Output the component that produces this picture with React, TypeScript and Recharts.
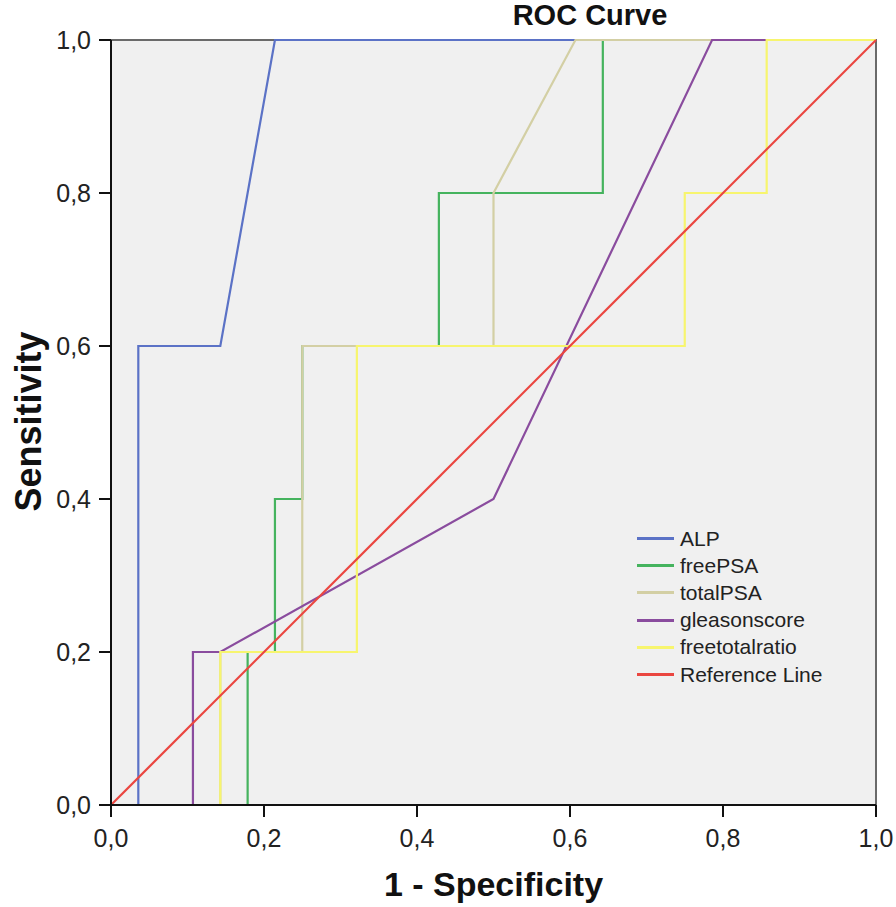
import React from 'react';
import { LineChart, Line, XAxis, YAxis, ReferenceArea, Legend } from 'recharts';

const axisTicks = [0, 0.2, 0.4, 0.6, 0.8, 1.0];

const alpX = [0, 0.0357, 0.0357, 0.1429, 0.2143, 1];
const alpY = [0, 0, 0.6, 0.6, 1, 1];

const freePsaX = [0, 0.1786, 0.1786, 0.2143, 0.2143, 0.25, 0.25, 0.4286, 0.4286, 0.6429, 0.6429, 1];
const freePsaY = [0, 0, 0.2, 0.2, 0.4, 0.4, 0.6, 0.6, 0.8, 0.8, 1, 1];

const totalPsaX = [0, 0.1429, 0.1429, 0.25, 0.25, 0.5, 0.5, 0.6071, 1];
const totalPsaY = [0, 0, 0.2, 0.2, 0.6, 0.6, 0.8, 1, 1];

const gleasonX = [0, 0.1071, 0.1071, 0.1429, 0.5, 0.7857, 1];
const gleasonY = [0, 0, 0.2, 0.2, 0.4, 1, 1];

const ratioX = [0, 0.1429, 0.1429, 0.3214, 0.3214, 0.75, 0.75, 0.8571, 0.8571, 1];
const ratioY = [0, 0, 0.2, 0.2, 0.6, 0.6, 0.8, 0.8, 1, 1];

const refX = [0, 1];
const refY = [0, 1];

const toPoints = (xs: number[], ys: number[]) => xs.map((x, i) => ({ x, y: ys[i] }));

const series = [
  { name: 'ALP', data: toPoints(alpX, alpY), color: '#5b72c6' },
  { name: 'freePSA', data: toPoints(freePsaX, freePsaY), color: '#45b35e' },
  { name: 'totalPSA', data: toPoints(totalPsaX, totalPsaY), color: '#d3cfa4' },
  { name: 'gleasonscore', data: toPoints(gleasonX, gleasonY), color: '#8a4c9e' },
  { name: 'freetotalratio', data: toPoints(ratioX, ratioY), color: '#f7f56e' },
  { name: 'Reference Line', data: toPoints(refX, refY), color: '#ea4640' },
];
const seriesOrder = series.map((s) => s.name);

const fmt = (v: number) => v.toFixed(1).replace('.', ',');

const FONT = '"Liberation Sans", Arial, sans-serif';

const renderLegend = (props: any) => {
  const payload = [...(props.payload || [])].sort(
    (a: any, b: any) => seriesOrder.indexOf(a.value) - seriesOrder.indexOf(b.value)
  );
  return (
    <div style={{ fontFamily: FONT }}>
      {payload.map((p: any) => (
        <div key={p.value} style={{ display: 'flex', alignItems: 'center', height: 27.2 }}>
          <div style={{ width: 37, height: 3, background: p.color, marginRight: 6 }} />
          <span style={{ fontSize: 21, color: '#222', lineHeight: '22px' }}>{p.value}</span>
        </div>
      ))}
    </div>
  );
};

export default function App() {
  return (
    <div style={{ position: 'absolute', left: 0, top: 0, width: 896, height: 907, background: '#fff' }}>
      <div
        style={{
          position: 'absolute',
          left: 440,
          top: 0,
          width: 300,
          textAlign: 'center',
          fontFamily: FONT,
          fontWeight: 'bold',
          fontSize: 29,
          lineHeight: '30px',
          color: '#111',
          zIndex: 2,
        }}
      >
        ROC Curve
      </div>
      <LineChart width={896} height={907} margin={{ top: 40, right: 20, bottom: 0, left: 0 }}>
        <ReferenceArea
          x1={0}
          x2={1}
          y1={0}
          y2={1}
          fill="#f0f0f0"
          fillOpacity={1}
          stroke="#6a6a6a"
          strokeWidth={2}
          isAnimationActive={false}
        />
        <XAxis
          type="number"
          dataKey="x"
          domain={[0, 1]}
          ticks={axisTicks}
          tickFormatter={fmt}
          height={102}
          tickSize={12}
          tickMargin={12}
          axisLine={{ stroke: '#111', strokeWidth: 2 }}
          tickLine={{ stroke: '#111', strokeWidth: 2 }}
          tick={{ fill: '#222', fontSize: 25, fontFamily: FONT }}
          allowDuplicatedCategory
          label={{
            value: '1 - Specificity',
            position: 'insideBottom',
            offset: 11,
            style: { fill: '#111', fontSize: 34, fontWeight: 'bold', fontFamily: FONT },
          }}
        />
        <YAxis
          type="number"
          dataKey="y"
          domain={[0, 1]}
          ticks={axisTicks}
          tickFormatter={fmt}
          width={111}
          tickSize={12}
          tickMargin={8}
          axisLine={{ stroke: '#111', strokeWidth: 2 }}
          tickLine={{ stroke: '#111', strokeWidth: 2 }}
          tick={{ fill: '#222', fontSize: 25, fontFamily: FONT }}
          label={{
            value: 'Sensitivity',
            angle: -90,
            position: 'insideLeft',
            offset: 0,
            content: (p: any) => {
              const vb = p.viewBox || {};
              const cx = 41;
              const cy = (vb.y || 40) + (vb.height || 765) / 2 - 1;
              return (
                <text
                  x={cx}
                  y={cy}
                  transform={`rotate(-90 ${cx} ${cy})`}
                  textAnchor="middle"
                  fill="#111"
                  fontSize={36}
                  fontWeight="bold"
                  fontFamily={FONT}
                >
                  Sensitivity
                </text>
              );
            },
          }}
        />
        {series.map((s) => (
          <Line
            key={s.name}
            name={s.name}
            data={s.data}
            dataKey="y"
            type="linear"
            stroke={s.color}
            strokeWidth={2.2}
            dot={false}
            activeDot={false}
            isAnimationActive={false}
          />
        ))}
        <Legend
          layout="vertical"
          verticalAlign="middle"
          align="center"
          content={renderLegend}
          wrapperStyle={{ position: 'absolute', left: 637, top: 525, width: 240 }}
        />
      </LineChart>
    </div>
  );
}
